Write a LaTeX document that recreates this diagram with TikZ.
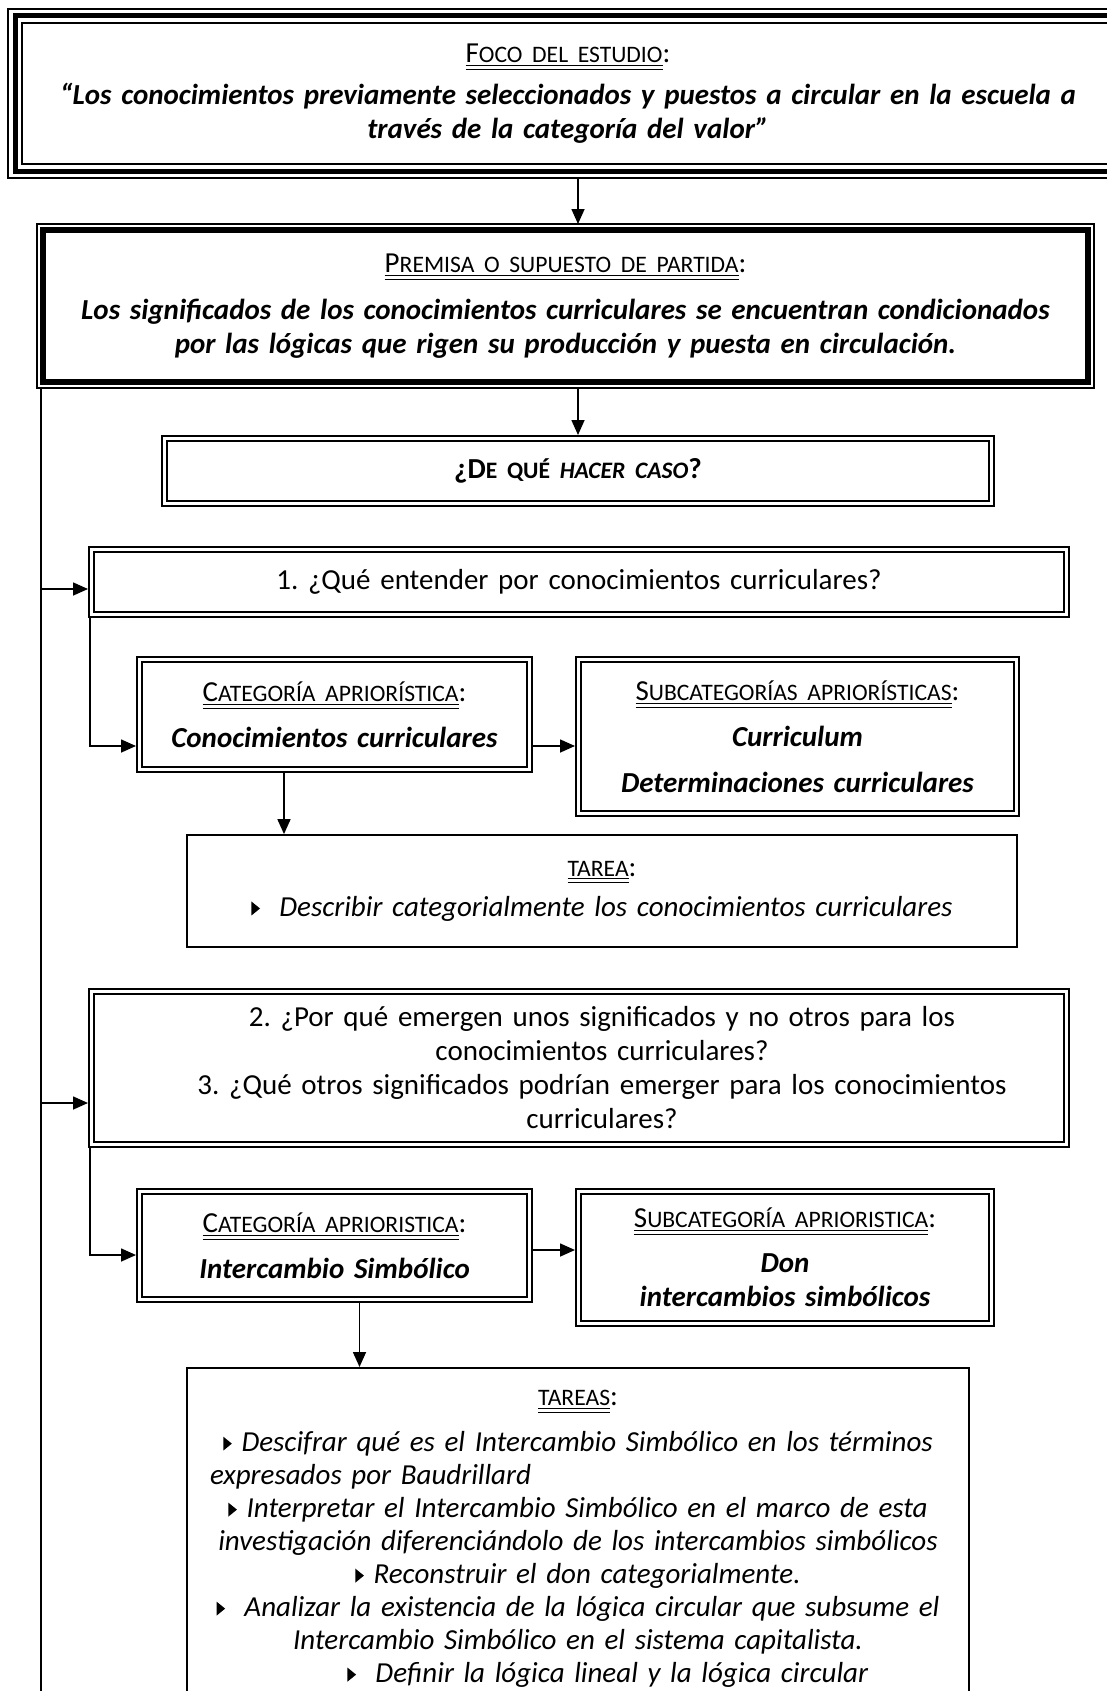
\documentclass[tikz,border=0pt]{standalone}
\usepackage{fontspec}
\setmainfont{Carlito}
\usetikzlibrary{arrows.meta}
\frenchspacing

% small-capital look: uppercase letters set smaller
\newcommand\smc[1]{{\fontsize{11.8pt}{17pt}\selectfont #1}}
% double-underlined heading followed by a colon
\newcommand\hdr[2]{\underline{\underline{#1\smc{#2}}}:}
\newcommand\bi[1]{\textbf{\textit{#1}}}
% small black pointer used for task items
\newcommand\tri{\tikz[baseline=-0.3pt]\fill (0pt,0pt) -- (0pt,7pt) -- (4.3pt,3.5pt) -- cycle;}

\tikzset{
  base/.style={align=center, inner sep=0pt, font=\fontsize{14.5pt}{17pt}\selectfont},
  triple/.style={base, draw, line width=2.5pt, outer sep=3.5pt},
  heavy/.style={base, draw, line width=3pt, outer sep=3pt},
  dbl/.style={base, draw, line width=1pt, double=white, double distance=1.5pt, outer sep=1.75pt},
  single/.style={base, draw, line width=0.9pt},
  thinframe/.style={line width=0.75pt},
  arr/.style={line width=0.8pt, -{Triangle[length=7.5pt,width=6.5pt]}},
  trunk/.style={line width=0.6pt},
}

\begin{document}
\begin{tikzpicture}[x=0.5pt, y=-0.5pt]
\fill[white] (0,0) rectangle (1107,1691);
\useasboundingbox (0,0) rectangle (1107,1691);

% focus of the study
\node[triple, minimum width=553pt, minimum height=77.5pt, text width=540pt] (b1) at (568,93.5)
  {\hdr{F}{OCO DEL ESTUDIO}\\[4pt]
   \bi{“Los conocimientos previamente seleccionados y puestos a circular en la escuela a}\\
   \bi{través de la categoría del valor”}};
\draw[thinframe] (b1.north west) rectangle (b1.south east);
\draw[thinframe] ([shift={(14,14)}]b1.north west) rectangle ([shift={(-14,-14)}]b1.south east);

% starting premise
\node[heavy, minimum width=522.5pt, minimum height=76pt, text width=512pt] (b2) at (565.5,306)
  {\hdr{P}{REMISA O SUPUESTO DE PARTIDA}\\[6.5pt]
   \bi{Los significados de los conocimientos curriculares se encuentran condicionados}\\
   \bi{por las lógicas que rigen su producción y puesta en circulación.}};
\draw[thinframe] (b2.north west) rectangle (b2.south east);

\node[dbl, minimum width=413.5pt, minimum height=32.5pt, text width=400pt] (b3) at (578,471)
  {\textbf{¿D\smc{E QUÉ} \textit{\smc{HACER CASO}}?}};

% first question block
\node[dbl, minimum width=487.5pt, minimum height=32.5pt, text width=475pt] (b4) at (579,582)
  {1. ¿Qué entender por conocimientos curriculares?};

\node[dbl, minimum width=195pt, minimum height=55pt, text width=190pt] (b5) at (334.5,714.5)
  {\hdr{C}{ATEGORÍA APRIORÍSTICA}\\[6pt]\bi{Conocimientos curriculares}};

\node[dbl, minimum width=219pt, minimum height=77pt, text width=212pt] (b6) at (797.5,736.5)
  {\hdr{S}{UBCATEGORÍAS APRIORÍSTICAS}\\[6pt]\bi{Curriculum}\\[6pt]\bi{Determinaciones curriculares}};

\node[single, minimum width=415pt, minimum height=56pt, text width=405pt] (b7) at (602,891)
  {\hdr{}{TAREA}\\[3pt]\tri\ \ \textit{Describir categorialmente los conocimientos curriculares}};

% second and third questions
\node[dbl, minimum width=487.5pt, minimum height=76.5pt, text width=480pt] (b8) at (579,1068)
  {\hspace*{23pt}2. ¿Por qué emergen unos significados y no otros para los\\
   \hspace*{23pt}conocimientos curriculares?\\
   \hspace*{23pt}3. ¿Qué otros significados podrían emerger para los conocimientos\\
   \hspace*{23pt}curriculares?};

\node[dbl, minimum width=195pt, minimum height=54pt, text width=190pt] (b9) at (334.5,1245.5)
  {\hdr{C}{ATEGORÍA APRIORISTICA}\\[6pt]\bi{Intercambio Simbólico}};

\node[dbl, minimum width=206.5pt, minimum height=66pt, text width=200pt] (b10) at (785,1257.5)
  {\hdr{S}{UBCATEGORÍA APRIORISTICA}\\[5.5pt]\bi{Don}\\\bi{intercambios simbólicos}};

\node[single, anchor=north, minimum width=391pt, text width=388pt, inner ysep=11pt,
      font=\fontsize{14.5pt}{16.5pt}\selectfont] (b11) at (578,1367)
  {\hdr{}{TAREAS}\\[6.5pt]
   \tri\ \textit{Descifrar qué es el Intercambio Simbólico en los términos}\\
   \makebox[368pt][l]{\textit{expresados por Baudrillard}}\\
   \tri\ \textit{Interpretar el Intercambio Simbólico en el marco de esta}\\
   \textit{investigación diferenciándolo de los intercambios simbólicos}\\
   \tri\ \textit{Reconstruir el don categorialmente.}\\
   \tri\ \ \textit{Analizar la existencia de la lógica circular que subsume el}\\
   \textit{Intercambio Simbólico en el sistema capitalista.}\\
   \hspace*{30pt}\tri\ \ \textit{Definir la lógica lineal y la lógica circular}};

% main flow
\draw[arr] (b1.south -| b3.north) -- (b2.north -| b3.north);
\draw[arr] (b2.south -| b3.north) -- (b3.north);

% left trunk and its branches
\coordinate (tTop) at ([xshift=2pt]b2.south west);
\coordinate (tBot) at (41,1700);
\draw[trunk] (tTop) -- (tBot);

\coordinate (e4) at ([yshift=-3.5pt]b4.west);
\draw[arr] (tTop |- e4) -- (e4);
\coordinate (e5) at ([yshift=-15.75pt]b5.west);
\draw[arr] ([xshift=1pt]b4.south west) |- (e5);
\draw[arr] (b5.east |- e5) -- (b6.west |- e5);
\draw[arr] ([xshift=-25.25pt]b5.south) -- ([xshift=-25.25pt]b5.south |- b7.north);

\coordinate (e8) at ([yshift=-17.5pt]b8.west);
\draw[arr] (tTop |- e8) -- (e8);
\coordinate (e9) at ([yshift=-4.75pt]b9.west);
\draw[arr] ([xshift=1pt]b8.south west) |- (e9);
\coordinate (e10) at ([yshift=3.75pt]b10.west);
\draw[arr] (b9.east |- e10) -- (e10);
\draw[arr] ([xshift=12.5pt]b9.south) -- ([xshift=12.5pt]b9.south |- b11.north);
\end{tikzpicture}
\end{document}
